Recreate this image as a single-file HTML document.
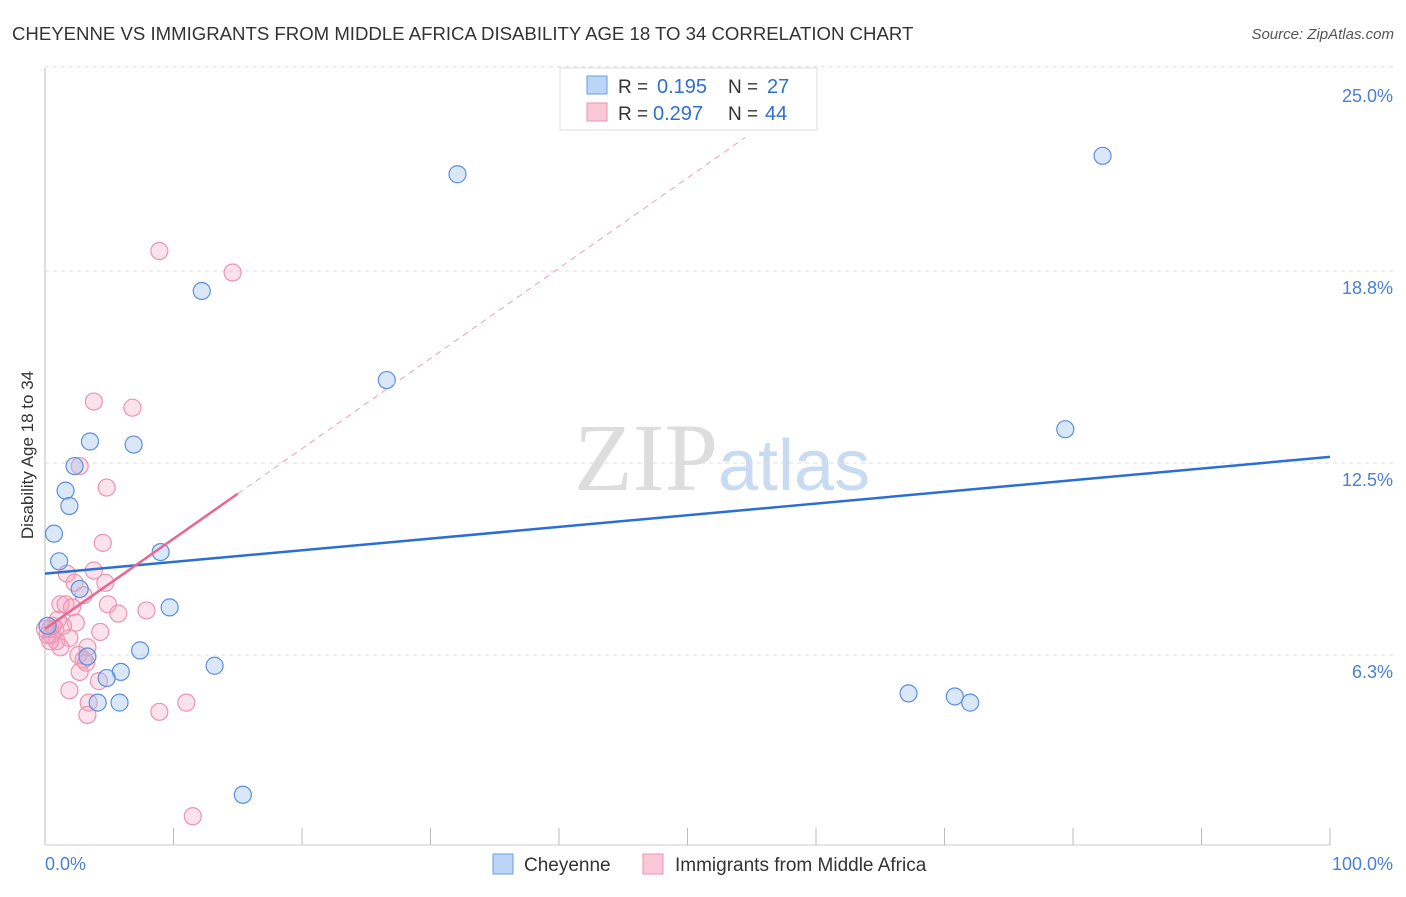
<!DOCTYPE html>
<html><head><meta charset="utf-8"><style>
body{margin:0;background:#fff;font-family:"Liberation Sans",sans-serif}
</style></head><body>
<svg id="c" width="1406" height="892" xmlns="http://www.w3.org/2000/svg">
<text x="12" y="40" font-size="18.6" fill="#333">CHEYENNE VS IMMIGRANTS FROM MIDDLE AFRICA DISABILITY AGE 18 TO 34 CORRELATION CHART</text>
<text x="1394" y="39" font-size="15" fill="#555" font-style="italic" text-anchor="end">Source: ZipAtlas.com</text>
<text x="718" y="490" font-size="96" fill="#ddd" text-anchor="end" font-family="Liberation Serif">ZIP</text>
<text x="718" y="490" font-size="72" fill="#c9dbf1">atlas</text>
<g id="grid"></g><g id="marks"></g>
<text transform="translate(33,455) rotate(-90)" font-size="17" fill="#333" text-anchor="middle">Disability Age 18 to 34</text>
<text x="45" y="870" font-size="18" fill="#4a7fd4">0.0%</text>
<text x="1393" y="870" font-size="18" fill="#4a7fd4" text-anchor="end">100.0%</text>
<g>
<rect x="560" y="68" width="257" height="62" fill="#fff" stroke="#ddd"/>
<rect x="587" y="76" width="20" height="18" fill="#bcd4f5" stroke="#6a9be0"/>
<rect x="587" y="103" width="20" height="18" fill="#f9c9d8" stroke="#ec93b1"/>
<text x="618" y="93" font-size="19" fill="#333">R =</text><text x="657" y="93" font-size="20" fill="#2f6fd0">0.195</text>
<text x="728" y="93" font-size="19" fill="#333">N =</text><text x="767" y="93" font-size="20" fill="#2f6fd0">27</text>
<text x="618" y="120" font-size="19" fill="#333">R =</text><text x="653" y="120" font-size="20" fill="#2f6fd0">0.297</text>
<text x="728" y="120" font-size="19" fill="#333">N =</text><text x="765" y="120" font-size="20" fill="#2f6fd0">44</text>
</g>
<g>
<rect x="493" y="854" width="20" height="20" fill="#bcd4f5" stroke="#6a9be0"/>
<text x="524" y="871" font-size="19" fill="#333">Cheyenne</text>
<rect x="643" y="854" width="20" height="20" fill="#f9c9d8" stroke="#ec93b1"/>
<text x="675" y="871" font-size="19" fill="#333">Immigrants from Middle Africa</text>
</g>
</svg>
<script>
const yTicks=[6.25,12.5,18.75,25];
const yTickLabels=["6.3%","12.5%","18.8%","25.0%"];
const blueX=[32.1,82.3,12.2,26.6,79.4,3.5,6.9,2.3,1.6,1.9,0.7,1.1,9.0,2.7,9.7,7.4,3.3,13.2,5.9,4.8,4.1,5.8,67.2,70.8,72.0,15.4,0.2];
const blueY=[21.9,22.5,18.1,15.2,13.6,13.2,13.1,12.4,11.6,11.1,10.2,9.3,9.6,8.4,7.8,6.4,6.2,5.9,5.7,5.5,4.7,4.7,5.0,4.9,4.7,1.7,7.2];
const pinkX=[8.9,14.6,3.8,6.8,2.7,4.8,4.5,1.7,3.8,2.3,4.7,3.0,1.2,1.6,4.9,7.9,5.7,2.1,1.0,2.4,0.4,0.8,0.2,4.3,1.9,0.9,0.5,1.2,3.3,2.6,3.2,3.0,2.7,4.2,1.9,3.4,3.3,8.9,11.0,11.5,0.4,1.4,0.6,0];
const pinkY=[19.4,18.7,14.5,14.3,12.4,11.7,9.9,8.9,9.0,8.6,8.6,8.2,7.9,7.9,7.9,7.7,7.6,7.8,7.4,7.3,7.1,7.1,6.9,7.0,6.8,6.7,6.9,6.5,6.5,6.25,6.0,6.1,5.7,5.4,5.1,4.7,4.3,4.4,4.7,1.0,6.7,7.2,7.2,7.1];
const blueTrend=[[0,8.9],[100,12.7]];
const pinkTrend=[[0,7.1],[15,11.5]];
const pinkDash=[[15,11.5],[54.5,23.1]];
const X=v=>45+v*12.85, Y=v=>847-v*30.72;
const NS="http://www.w3.org/2000/svg";
const grid=document.getElementById('grid'), marks=document.getElementById('marks');
function mk(p,tag,a){const e=document.createElementNS(NS,tag);for(const k in a)e.setAttribute(k,a[k]);p.appendChild(e);return e;}
let ax=mk(grid,'line',{x1:45,y1:68,x2:45,y2:845,stroke:'#bbb'});


let bx=mk(grid,'line',{x1:45,y1:845,x2:1330,y2:845,stroke:'#ccc'});


for(let i=0;i<=10;i++){let t=mk(grid,'line',{x1:X(i*10),y1:828,x2:X(i*10),y2:845,stroke:'#bbb'});

}
let topg=mk(grid,'line',{x1:45,y1:Y(25.4),x2:1395,y2:Y(25.4),stroke:'#ddd','stroke-dasharray':'4 4'});


yTicks.forEach((v,i)=>{
 if(i<3){let g=mk(grid,'line',{x1:45,y1:Y(v),x2:1395,y2:Y(v),stroke:'#ddd','stroke-dasharray':'4 4'});
 
 }
 let t=mk(grid,'text',{x:1393,y:Y(v)+23,'font-size':18,fill:'#4a7fd4','text-anchor':'end'});t.textContent=yTickLabels[i];
 
 
});
pinkX.forEach((x,i)=>{let c=mk(marks,'circle',{cx:X(x),cy:Y(pinkY[i]),r:8.5,fill:'rgba(244,160,190,0.3)',stroke:'#ec93b1','stroke-width':1.2});

});
blueX.forEach((x,i)=>{let c=mk(marks,'circle',{cx:X(x),cy:Y(blueY[i]),r:8.5,fill:'rgba(160,196,240,0.4)',stroke:'#5b8fdc','stroke-width':1.2});

});
let l1=mk(marks,'line',{x1:X(blueTrend[0][0]),y1:Y(blueTrend[0][1]),x2:X(blueTrend[1][0]),y2:Y(blueTrend[1][1]),stroke:'#2b6fd6','stroke-width':2.5});


let l2=mk(marks,'line',{x1:X(pinkTrend[0][0]),y1:Y(pinkTrend[0][1]),x2:X(pinkTrend[1][0]),y2:Y(pinkTrend[1][1]),stroke:'#e8668f','stroke-width':2.5});


let l3=mk(marks,'line',{x1:X(pinkDash[0][0]),y1:Y(pinkDash[0][1]),x2:X(pinkDash[1][0]),y2:Y(pinkDash[1][1]),stroke:'#eaa0b8','stroke-width':1,'stroke-dasharray':'6 5'});


</script>
</body></html>
